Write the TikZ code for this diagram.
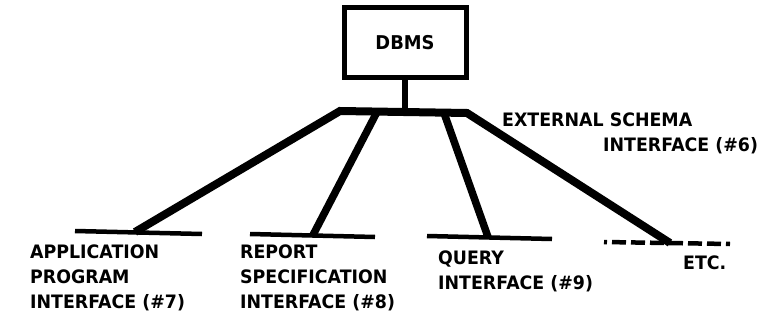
\documentclass[tikz,border=0pt]{standalone}
\usepackage{fontspec}
\setsansfont[FakeStretch=0.94]{DejaVu Sans}
\begin{document}
\begin{tikzpicture}[x=1pt,y=-1pt,
  lbl/.style={font=\sffamily\bfseries\fontsize{18.5}{25}\selectfont, inner sep=0pt, anchor=north west, align=left},
  trunk/.style={line width=8pt, line join=miter},
  spur/.style={line width=7.5pt},
  rail/.style={line width=4.5pt},
  dashrail/.style={line width=4.5pt, dash pattern=on 14pt off 5pt, dash phase=11pt}]
  \useasboundingbox[fill=white] (0,0) rectangle (782,321);

  % DBMS box and its stem
  \node (dbms) [draw, line width=5pt, minimum width=122pt, minimum height=70pt,
    font=\sffamily\bfseries\fontsize{19}{22}\selectfont] at (405,43) {DBMS};
  \coordinate (hub) at (405,112);
  \draw[line width=5.5pt] (dbms.south) -- (hub);

  % bus corners and leg feet
  \coordinate (busL) at (340,111);
  \coordinate (busR) at (467,113);
  \coordinate (footA) at (135,232);
  \coordinate (topB) at (377,112);
  \coordinate (footB) at (313,235);
  \coordinate (topC) at (444,113);
  \coordinate (footC) at (488,237);
  \coordinate (footD) at (670,243);

  % interface rails
  \coordinate (railA1) at (75,231);  \coordinate (railA2) at (202,234);
  \coordinate (railB1) at (250,234); \coordinate (railB2) at (375,237);
  \coordinate (railC1) at (427,236); \coordinate (railC2) at (552,239);
  \coordinate (railD1) at (604,242); \coordinate (railD2) at (730,244);
  \draw[rail] (railA1) -- (railA2);
  \draw[rail] (railB1) -- (railB2);
  \draw[rail] (railC1) -- (railC2);
  \draw[dashrail] (railD1) -- (railD2);

  % trunk and legs
  \draw[trunk] (footA) -- (busL) -- (busR) -- (footD);
  \draw[spur] (topB) -- (footB);
  \draw[spur] (topC) -- (footC);

  % labels
  \node (ext1) [lbl] at (502,113) {EXTERNAL SCHEMA};
  \node (ext2) [lbl] at (603,137) {INTERFACE (\#6)};
  \node (app) [lbl] at (30,245) {APPLICATION\\PROGRAM\\INTERFACE (\#7)};
  \node (rep) [lbl] at (240,245) {REPORT\\SPECIFICATION\\INTERFACE (\#8)};
  \node (qry) [lbl] at (438,251) {QUERY\\INTERFACE (\#9)};
  \node (etc) [lbl] at (683,256) {ETC.};
\end{tikzpicture}
\end{document}
